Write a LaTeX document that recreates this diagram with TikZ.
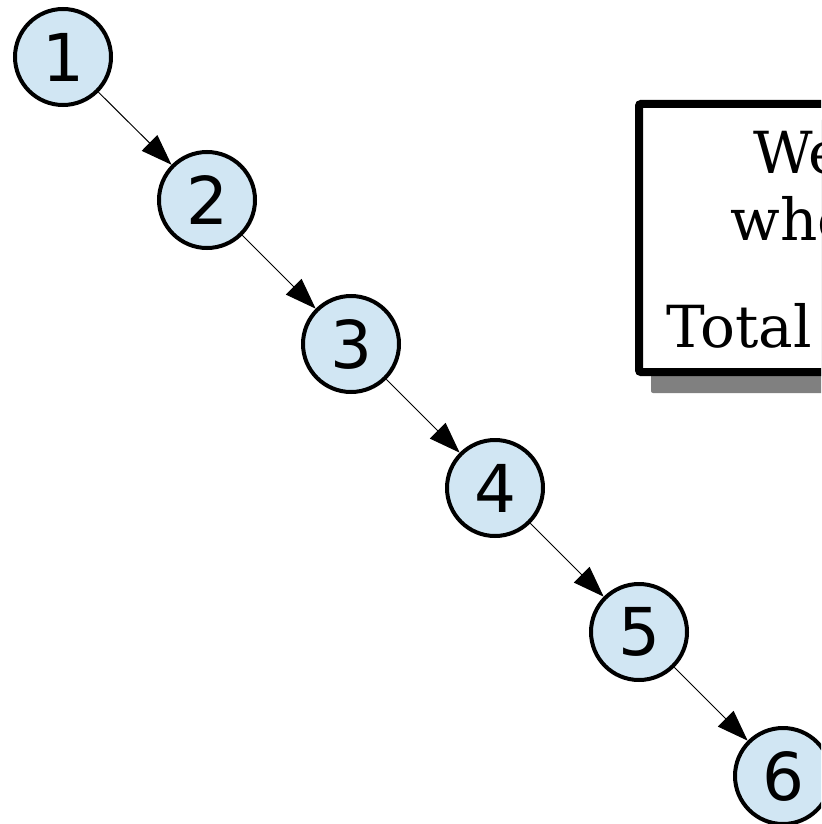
\documentclass[tikz,border=0pt]{standalone}
\usepackage{fontspec}
\setmainfont{DejaVu Serif}
\newfontfamily\numfont{DejaVu Sans}
\usetikzlibrary{arrows.meta}
\definecolor{nodeblue}{RGB}{209,230,243}
\definecolor{shadowgray}{RGB}{128,128,128}
\begin{document}
\begin{tikzpicture}[x=0.5pt,y=-0.5pt,
  numnode/.style={circle,draw=black,line width=2pt,fill=nodeblue,minimum size=48pt,inner sep=0pt,font=\numfont\fontsize{33}{39}\selectfont},
  chainarrow/.style={-{Triangle[length=15.5pt,width=11pt]},line width=0.5pt},
  boxtext/.style={anchor=base west,inner sep=0pt,font=\fontsize{29}{35}\selectfont}]
\useasboundingbox (0,0) rectangle (821,824);
\clip (0,0) rectangle (821,824);
\fill[shadowgray,rounded corners=1pt] (651,120) rectangle (1020,393);
\filldraw[fill=white,draw=black,line width=4pt,rounded corners=1pt] (639,104) rectangle (1005,372);
\node[boxtext] (weline) at (753,173) {We};
\node[boxtext] (wheline) at (730,240) {whe};
\node[boxtext] (totalline) at (666,347) {Total};
\node[numnode] (n1) at (63,57) {1};
\node[numnode] (n2) at (207,200) {2};
\node[numnode] (n3) at (351,344) {3};
\node[numnode] (n4) at (495,488) {4};
\node[numnode] (n5) at (639,632) {5};
\node[numnode] (n6) at (783,776) {6};
\draw[chainarrow] (n1) -- (n2);
\draw[chainarrow] (n2) -- (n3);
\draw[chainarrow] (n3) -- (n4);
\draw[chainarrow] (n4) -- (n5);
\draw[chainarrow] (n5) -- (n6);
\end{tikzpicture}
\end{document}
